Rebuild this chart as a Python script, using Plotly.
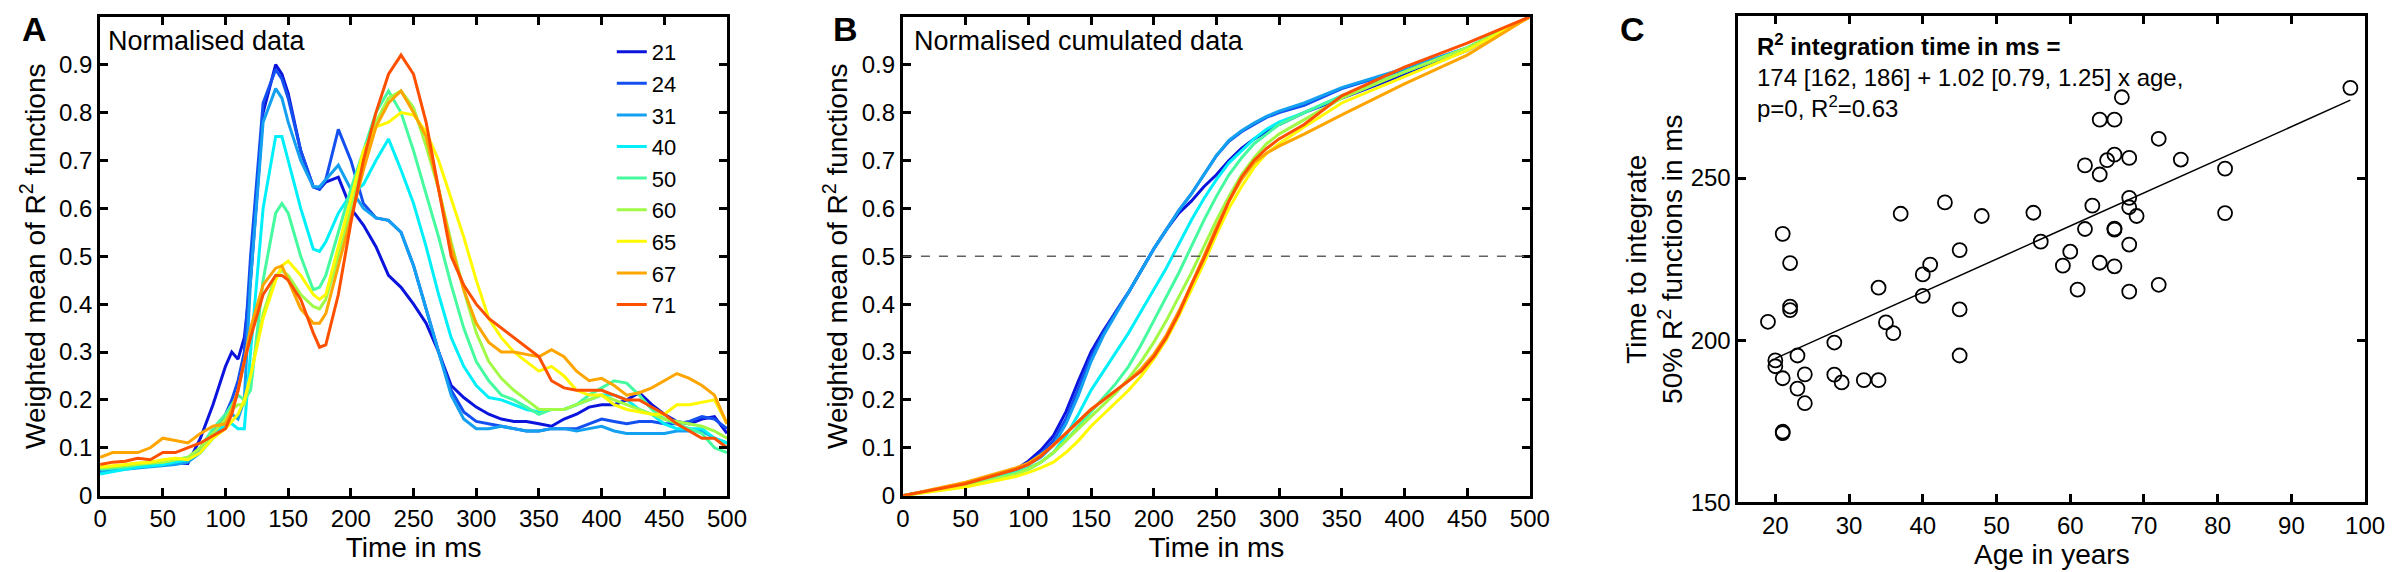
import plotly.graph_objects as go

# ---- data -------------------------------------------------------------
ages = ["21", "24", "31", "40", "50", "60", "65", "67", "71"]
colors = ["#0a14dc", "#1450f0", "#14a0f0", "#00f0fa", "#46faa0",
          "#a0fa46", "#fffa00", "#ffa500", "#ff5000"]

# panel A: normalised data
time_a = [0, 10, 20, 30, 40, 50, 60, 70, 80, 90,
          100, 105, 110, 115, 120, 130, 140, 145, 150, 160,
          170, 175, 180, 190, 200, 210, 220, 230, 240, 250,
          260, 270, 280, 290, 300, 310, 320, 330, 340, 350,
          360, 370, 380, 390, 400, 410, 420, 430, 440, 450,
          460, 470, 480, 490, 500]

norm_21 = [0.050, 0.055, 0.060, 0.062, 0.065, 0.065, 0.068, 0.067, 0.120, 0.190,
           0.270, 0.300, 0.285, 0.330, 0.450, 0.800, 0.900, 0.880, 0.840, 0.720,
           0.645, 0.640, 0.655, 0.665, 0.600, 0.565, 0.520, 0.460, 0.435, 0.400,
           0.360, 0.300, 0.230, 0.205, 0.185, 0.170, 0.160, 0.155, 0.155, 0.150,
           0.145, 0.160, 0.170, 0.185, 0.190, 0.190, 0.200, 0.215, 0.190, 0.170,
           0.155, 0.150, 0.160, 0.165, 0.130]
norm_24 = [0.055, 0.057, 0.060, 0.062, 0.065, 0.067, 0.070, 0.075, 0.100, 0.130,
           0.170, 0.200, 0.240, 0.300, 0.500, 0.820, 0.890, 0.870, 0.830, 0.720,
           0.645, 0.640, 0.660, 0.765, 0.700, 0.610, 0.580, 0.575, 0.550, 0.480,
           0.390, 0.300, 0.220, 0.175, 0.155, 0.150, 0.145, 0.140, 0.135, 0.135,
           0.140, 0.140, 0.140, 0.150, 0.160, 0.155, 0.150, 0.155, 0.155, 0.150,
           0.150, 0.155, 0.165, 0.160, 0.140]
norm_31 = [0.050, 0.052, 0.055, 0.058, 0.060, 0.062, 0.065, 0.070, 0.090, 0.120,
           0.160, 0.170, 0.160, 0.200, 0.450, 0.780, 0.850, 0.830, 0.780, 0.700,
           0.645, 0.645, 0.660, 0.690, 0.640, 0.600, 0.580, 0.575, 0.550, 0.480,
           0.390, 0.300, 0.210, 0.160, 0.140, 0.140, 0.145, 0.140, 0.135, 0.135,
           0.140, 0.140, 0.135, 0.140, 0.145, 0.135, 0.130, 0.130, 0.130, 0.130,
           0.135, 0.135, 0.135, 0.120, 0.110]
norm_40 = [0.045, 0.050, 0.055, 0.060, 0.062, 0.065, 0.070, 0.075, 0.090, 0.120,
           0.150, 0.150, 0.140, 0.140, 0.300, 0.600, 0.750, 0.750, 0.700, 0.600,
           0.515, 0.510, 0.530, 0.590, 0.630, 0.650, 0.700, 0.745, 0.680, 0.610,
           0.520, 0.420, 0.330, 0.270, 0.230, 0.205, 0.200, 0.190, 0.180, 0.175,
           0.180, 0.180, 0.190, 0.200, 0.210, 0.210, 0.200, 0.180, 0.170, 0.150,
           0.140, 0.140, 0.140, 0.120, 0.110]
norm_50 = [0.055, 0.058, 0.060, 0.065, 0.068, 0.070, 0.075, 0.080, 0.100, 0.140,
           0.170, 0.190, 0.210, 0.200, 0.220, 0.450, 0.590, 0.610, 0.590, 0.500,
           0.430, 0.435, 0.460, 0.550, 0.640, 0.720, 0.800, 0.845, 0.800, 0.720,
           0.630, 0.540, 0.440, 0.350, 0.280, 0.240, 0.210, 0.200, 0.185, 0.170,
           0.180, 0.180, 0.190, 0.210, 0.225, 0.240, 0.235, 0.210, 0.180, 0.160,
           0.150, 0.140, 0.130, 0.100, 0.090]
norm_60 = [0.058, 0.060, 0.062, 0.065, 0.068, 0.070, 0.075, 0.080, 0.100, 0.130,
           0.160, 0.180, 0.190, 0.190, 0.250, 0.380, 0.460, 0.470, 0.460, 0.420,
           0.395, 0.390, 0.410, 0.500, 0.600, 0.700, 0.780, 0.830, 0.845, 0.810,
           0.730, 0.640, 0.530, 0.430, 0.340, 0.280, 0.245, 0.220, 0.200, 0.180,
           0.180, 0.180, 0.190, 0.200, 0.210, 0.200, 0.190, 0.180, 0.170, 0.160,
           0.155, 0.150, 0.145, 0.135, 0.120]
norm_65 = [0.060, 0.062, 0.065, 0.068, 0.070, 0.075, 0.078, 0.075, 0.090, 0.120,
           0.140, 0.155, 0.170, 0.200, 0.250, 0.370, 0.450, 0.480, 0.490, 0.460,
           0.420, 0.410, 0.420, 0.520, 0.620, 0.720, 0.770, 0.780, 0.800, 0.795,
           0.760, 0.700, 0.620, 0.540, 0.450, 0.370, 0.330, 0.300, 0.280, 0.260,
           0.270, 0.250, 0.220, 0.210, 0.210, 0.190, 0.180, 0.175, 0.170, 0.170,
           0.190, 0.190, 0.195, 0.200, 0.150]
norm_67 = [0.080, 0.090, 0.090, 0.090, 0.100, 0.120, 0.115, 0.110, 0.130, 0.145,
           0.150, 0.180, 0.220, 0.280, 0.350, 0.440, 0.475, 0.480, 0.450, 0.390,
           0.360, 0.360, 0.380, 0.480, 0.580, 0.680, 0.770, 0.820, 0.845, 0.800,
           0.750, 0.640, 0.520, 0.430, 0.360, 0.320, 0.300, 0.300, 0.295, 0.290,
           0.305, 0.290, 0.260, 0.240, 0.245, 0.230, 0.210, 0.215, 0.225, 0.240,
           0.255, 0.245, 0.230, 0.210, 0.150]
norm_71 = [0.065, 0.070, 0.072, 0.078, 0.075, 0.090, 0.090, 0.100, 0.110, 0.125,
           0.140, 0.170, 0.220, 0.280, 0.330, 0.420, 0.460, 0.460, 0.450, 0.410,
           0.340, 0.310, 0.315, 0.420, 0.570, 0.700, 0.800, 0.880, 0.920, 0.880,
           0.780, 0.640, 0.500, 0.440, 0.400, 0.370, 0.350, 0.330, 0.310, 0.290,
           0.240, 0.225, 0.220, 0.220, 0.220, 0.210, 0.200, 0.200, 0.185, 0.170,
           0.150, 0.135, 0.120, 0.120, 0.100]

# panel B: normalised cumulated data
time_b = [0, 50, 90, 100, 110, 120, 130, 140, 150,
          160, 170, 180, 190, 200, 210, 220, 230, 240, 250,
          260, 270, 280, 290, 300, 320, 350, 400, 450, 500]

cum_21 = [0, 0.025, 0.055, 0.072, 0.095, 0.125, 0.175, 0.240, 0.300,
          0.345, 0.385, 0.425, 0.470, 0.515, 0.555, 0.590, 0.615, 0.645, 0.670,
          0.700, 0.725, 0.745, 0.760, 0.775, 0.800, 0.830, 0.880, 0.930, 1.0]
cum_24 = [0, 0.025, 0.055, 0.068, 0.088, 0.115, 0.160, 0.225, 0.290,
          0.340, 0.385, 0.425, 0.470, 0.515, 0.555, 0.595, 0.630, 0.670, 0.710,
          0.740, 0.760, 0.775, 0.790, 0.800, 0.815, 0.850, 0.890, 0.935, 1.0]
cum_31 = [0, 0.024, 0.052, 0.065, 0.080, 0.105, 0.150, 0.210, 0.280,
          0.335, 0.380, 0.425, 0.470, 0.515, 0.555, 0.595, 0.630, 0.670, 0.710,
          0.742, 0.762, 0.778, 0.792, 0.803, 0.820, 0.852, 0.892, 0.935, 1.0]
cum_40 = [0, 0.022, 0.045, 0.055, 0.070, 0.090, 0.125, 0.170, 0.220,
          0.260, 0.300, 0.340, 0.385, 0.430, 0.475, 0.525, 0.575, 0.620, 0.660,
          0.695, 0.720, 0.745, 0.765, 0.780, 0.800, 0.835, 0.885, 0.935, 1.0]
cum_50 = [0, 0.022, 0.048, 0.058, 0.070, 0.090, 0.115, 0.145, 0.175,
          0.205, 0.235, 0.270, 0.315, 0.365, 0.415, 0.465, 0.520, 0.575, 0.625,
          0.670, 0.705, 0.735, 0.755, 0.775, 0.800, 0.835, 0.885, 0.935, 1.0]
cum_60 = [0, 0.020, 0.045, 0.055, 0.070, 0.090, 0.115, 0.140, 0.165,
          0.190, 0.215, 0.245, 0.280, 0.320, 0.365, 0.415, 0.465, 0.520, 0.575,
          0.625, 0.670, 0.705, 0.735, 0.755, 0.785, 0.830, 0.885, 0.935, 1.0]
cum_65 = [0, 0.018, 0.040, 0.048, 0.058, 0.070, 0.090, 0.115, 0.145,
          0.170, 0.195, 0.220, 0.250, 0.285, 0.325, 0.375, 0.430, 0.485, 0.545,
          0.600, 0.645, 0.685, 0.715, 0.735, 0.770, 0.820, 0.875, 0.930, 1.0]
cum_67 = [0, 0.028, 0.058, 0.068, 0.085, 0.105, 0.130, 0.155, 0.180,
          0.200, 0.220, 0.240, 0.265, 0.295, 0.335, 0.385, 0.440, 0.500, 0.560,
          0.615, 0.660, 0.695, 0.715, 0.730, 0.755, 0.795, 0.860, 0.920, 1.0]
cum_71 = [0, 0.025, 0.055, 0.065, 0.082, 0.105, 0.130, 0.155, 0.180,
          0.200, 0.220, 0.240, 0.260, 0.290, 0.330, 0.380, 0.440, 0.495, 0.555,
          0.615, 0.665, 0.700, 0.725, 0.745, 0.775, 0.835, 0.895, 0.945, 1.0]

# panel C: time to integrate 50% vs age
age_years = [98, 67, 64, 66, 72, 75, 65, 66, 68, 62,
             64, 81, 68, 63, 43, 68, 69, 37, 48, 55,
             81, 62, 66, 66, 21, 56, 68, 60, 45, 22,
             41, 40, 59, 64, 66, 34, 61, 72, 68, 40,
             22, 22, 45, 19, 35, 36, 28, 20, 20, 23,
             45, 21, 24, 28, 29, 32, 34, 23, 24, 21, 21]
t50_ms = [277.8, 274.9, 268.0, 268.0, 262.1, 255.7, 255.5, 257.2, 256.2, 253.9,
          251.1, 252.9, 243.9, 241.5, 242.5, 241.0, 238.3, 239.0, 238.3, 239.3,
          239.2, 234.3, 234.4, 234.1, 232.8, 230.4, 229.5, 227.3, 227.8, 223.8,
          223.3, 220.3, 223.0, 223.9, 222.8, 216.2, 215.6, 217.1, 215.0, 213.7,
          210.4, 209.3, 209.5, 205.7, 205.5, 202.2, 199.3, 193.8, 192.0, 195.3,
          195.3, 188.3, 189.5, 189.4, 187.0, 187.7, 187.7, 185.1, 180.6, 171.8, 171.4]
fit_age = [20, 98]
fit_ms = [194.4, 274.0]

norm_series = [norm_21, norm_24, norm_31, norm_40, norm_50,
               norm_60, norm_65, norm_67, norm_71]
cum_series = [cum_21, cum_24, cum_31, cum_40, cum_50,
              cum_60, cum_65, cum_67, cum_71]

FONT = "Liberation Sans, Arial, Helvetica, sans-serif"

fig = go.Figure()

for age, col, ys in zip(ages, colors, norm_series):
    fig.add_trace(go.Scatter(x=time_a, y=ys, mode="lines", name=age,
                             line=dict(color=col, width=3),
                             xaxis="x", yaxis="y"))

for age, col, ys in zip(ages, colors, cum_series):
    fig.add_trace(go.Scatter(x=time_b, y=ys, mode="lines", name=age,
                             line=dict(color=col, width=3), showlegend=False,
                             xaxis="x2", yaxis="y2"))

fig.add_trace(go.Scatter(x=fit_age, y=fit_ms, mode="lines", showlegend=False,
                         line=dict(color="black", width=1.5),
                         xaxis="x3", yaxis="y3"))
fig.add_trace(go.Scatter(x=age_years, y=t50_ms, mode="markers", showlegend=False,
                         marker=dict(symbol="circle-open", size=14, color="black",
                                     line=dict(width=1.8)),
                         xaxis="x3", yaxis="y3"))

# dashed 0.5 reference line in panel B
fig.add_shape(type="line", xref="x2 domain", yref="y2", x0=0, x1=1, y0=0.5, y1=0.5,
              line=dict(color="#606060", width=1.3, dash="dash"))

frac_ticks = [i / 10 for i in range(11)]
frac_text = ["0"] + ["0.%d" % i for i in range(1, 10)] + ["1"]

axis_common = dict(showline=True, linecolor="black", linewidth=3, mirror="allticks",
                   ticks="inside", ticklen=8, tickwidth=3, tickcolor="black",
                   showgrid=False, zeroline=False,
                   tickfont=dict(size=24, color="black"))
time_axis = dict(axis_common, range=[0, 500], tickvals=list(range(0, 501, 50)),
                 title=dict(text="Time in ms", font=dict(size=28), standoff=4))
frac_axis = dict(axis_common, range=[0, 1], tickvals=frac_ticks, ticktext=frac_text,
                 title=dict(text="Weighted mean of R<sup>2</sup> functions",
                            font=dict(size=28), standoff=6))

fig.update_layout(
    width=2398, height=572,
    margin=dict(l=0, r=0, t=0, b=0),
    paper_bgcolor="white", plot_bgcolor="white",
    font=dict(family=FONT, color="black"),
    xaxis=dict(time_axis, domain=[0.0359, 0.3003], anchor="y"),
    yaxis=dict(frac_axis, domain=[0.1276, 0.9843], anchor="x"),
    xaxis2=dict(time_axis, domain=[0.3745, 0.6389], anchor="y2"),
    yaxis2=dict(frac_axis, domain=[0.1276, 0.9843], anchor="x2"),
    xaxis3=dict(axis_common, domain=[0.7269, 0.9912], anchor="y3", range=[15, 100],
                tickvals=list(range(20, 101, 10)),
                title=dict(text="Age in years", font=dict(size=28), standoff=2)),
    yaxis3=dict(axis_common, domain=[0.1154, 0.9860], anchor="x3", range=[150, 300],
                tickvals=[150, 200, 250, 300],
                title=dict(text="Time to integrate<br>50% R<sup>2</sup> functions in ms",
                           font=dict(size=28), standoff=0)),
    legend=dict(x=0.2517, y=0.959, xanchor="left", yanchor="top",
                bgcolor="rgba(0,0,0,0)", font=dict(size=22, color="black")),
)

panel_text = [
    dict(text="<b>A</b>", x=0.002, y=0.962, size=34),
    dict(text="<b>B</b>", x=0.344, y=0.962, size=34),
    dict(text="<b>C</b>", x=0.676, y=0.962, size=34),
]
for p in panel_text:
    fig.add_annotation(text=p["text"], xref="paper", yref="paper", x=p["x"], y=p["y"],
                       xanchor="left", yanchor="middle", showarrow=False,
                       font=dict(size=p["size"], color="black"))

fig.add_annotation(text="Normalised data", xref="x domain", yref="y domain",
                   x=0.01, y=0.95, xanchor="left", yanchor="middle", showarrow=False,
                   font=dict(size=27))
fig.add_annotation(text="Normalised cumulated data", xref="x2 domain", yref="y2 domain",
                   x=0.014, y=0.95, xanchor="left", yanchor="middle", showarrow=False,
                   font=dict(size=27))
fig.add_annotation(text="<b>R<sup>2</sup> integration time in ms =</b><br>"
                        "174 [162, 186] + 1.02 [0.79, 1.25] x age,<br>"
                        "p=0, R<sup>2</sup>=0.63",
                   xref="x3 domain", yref="y3 domain", x=0.027, y=0.975,
                   xanchor="left", yanchor="top", align="left", showarrow=False,
                   font=dict(size=24))

fig.write_html("out.html")
